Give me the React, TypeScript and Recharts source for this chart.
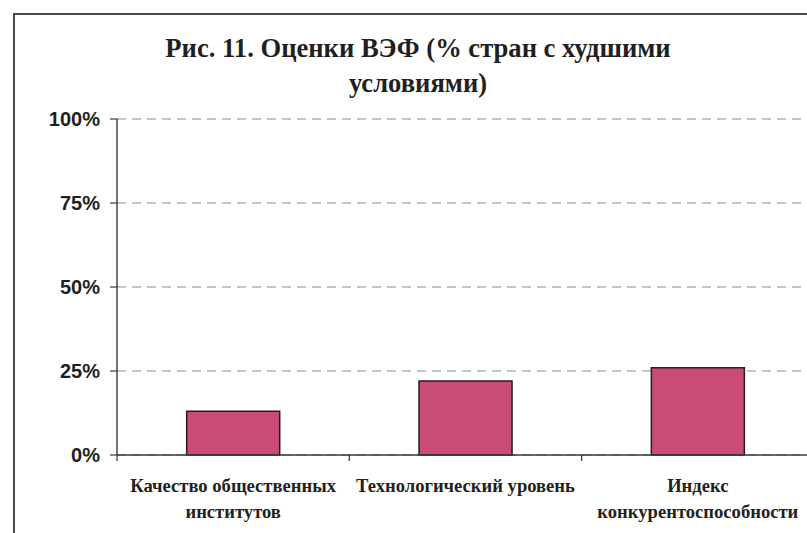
import React from 'react'
import { BarChart, Bar, XAxis, YAxis, CartesianGrid } from 'recharts'

const categories = ['Качество общественных\nинститутов', 'Технологический уровень', 'Индекс\nконкурентоспособности']
const shares = [13, 22, 26]
const yTicks = [0, 25, 50, 75, 100]
const titleLines = ['Рис. 11. Оценки ВЭФ (% стран с худшими', 'условиями)']

const chartData = categories.map((name, i) => ({ name, share: shares[i] }))

const serif = 'Liberation Serif, DejaVu Serif, serif'
const sans = 'Liberation Sans, Arial, sans-serif'

function CategoryTick(props: any) {
  const { x, y, payload } = props
  const lines = String(payload.value).split('\n')
  const edge = x - (payload.offset || 0)
  return (
    <g>
      <line x1={edge} y1={y} x2={edge} y2={y + 6} stroke="#333" strokeWidth={1.2} />
      {lines.map((line, i) => (
        <text
          key={i}
          x={x}
          y={y + 37 + i * 26}
          textAnchor="middle"
          style={{ fontFamily: serif, fontWeight: 700, fontSize: 18.6 }}
          fill="#231f20"
        >
          {line}
        </text>
      ))}
    </g>
  )
}

export default function App() {
  return (
    <div style={{ position: 'absolute', left: 0, top: 0, width: 807, height: 533, overflow: 'hidden', background: '#fff' }}>
      <div
        style={{
          position: 'absolute',
          left: 13,
          top: 13,
          width: 1000,
          height: 1000,
          borderLeft: '2px solid #4a4a4a',
          borderTop: '2px solid #4a4a4a',
        }}
      />
      <div
        style={{
          position: 'absolute',
          left: 0,
          top: 31,
          width: 836,
          textAlign: 'center',
          fontFamily: serif,
          fontWeight: 700,
          fontSize: 26.6,
          lineHeight: '35px',
          color: '#231f20',
        }}
      >
        {titleLines.map((t, i) => (
          <div key={i}>{t}</div>
        ))}
      </div>
      <div style={{ position: 'absolute', left: 0, top: 0 }}>
        <BarChart
          width={830}
          height={560}
          data={chartData}
          margin={{ top: 119, right: 16, left: 0, bottom: 45 }}
          barCategoryGap="30%"
        >
          <CartesianGrid vertical={false} stroke="#8a8a8a" strokeDasharray="9 6" strokeWidth={1.2} />
          <XAxis
            dataKey="name"
            height={60}
            interval={0}
            tickLine={false}
            tickSize={0}
            tickMargin={0}
            axisLine={{ stroke: '#3a3a3a', strokeWidth: 1.6 }}
            tick={<CategoryTick />}
          />
          <YAxis
            width={117}
            domain={[0, 100]}
            ticks={yTicks}
            tickFormatter={(v) => `${v}%`}
            tickSize={7}
            tickMargin={10}
            tickLine={{ stroke: '#3a3a3a', strokeWidth: 1.2 }}
            axisLine={{ stroke: '#3a3a3a', strokeWidth: 1.4 }}
            tick={{ fontFamily: sans, fontWeight: 'bold', fontSize: 20, fill: '#231f20' }}
          />
          <Bar dataKey="share" fill="#cb4b77" stroke="#2a1a1e" strokeWidth={1.5} isAnimationActive={false} />
        </BarChart>
      </div>
    </div>
  )
}
